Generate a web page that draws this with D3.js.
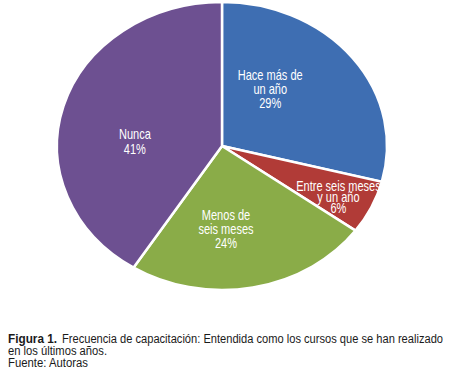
<!DOCTYPE html>
<html>
<head>
<meta charset="utf-8">
<script src="https://cdn.jsdelivr.net/npm/d3@7"></script>
<style>
  body { margin: 0; background: #fff; }
  svg { display: block; }
  .lbl { font-family: "Liberation Sans", Arial, sans-serif; font-size: 14.5px; fill: #fff; }
  .cap text { font-family: "Liberation Sans", Arial, sans-serif; font-size: 12.5px; fill: #1a1a1a; }
</style>
</head>
<body>
<svg width="457" height="379"></svg>
<script>
// data
var categories = ["Hace más de un año", "Entre seis meses y un año", "Menos de seis meses", "Nunca"];
var values = [29, 6, 24, 41];
var labelLines = [["Hace más de", "un año"], ["Entre seis meses", "y un año"], ["Menos de", "seis meses"], ["Nunca"]];
var colors = ["#3e6eb2", "#b13b37", "#8aac48", "#6d5091"];

var svg = d3.select("svg"),
    width = +svg.attr("width"),
    height = +svg.attr("height");

// the pie in the figure is a bit wider than tall
var cx = 222, cy = 146, ry = 144, rx = 165;

var pie = d3.pie().sort(null).value(d => d.value);
var arcs = pie(categories.map((c, i) => ({ name: c, value: values[i], lines: labelLines[i] })));

var arc = d3.arc().innerRadius(0).outerRadius(ry);

var g = svg.append("g")
    .attr("transform", "translate(" + cx + "," + cy + ") scale(" + (rx / ry) + ",1)");

g.selectAll("path")
    .data(arcs)
    .enter().append("path")
    .attr("d", arc)
    .attr("fill", (d, i) => colors[i])
    .attr("stroke", "#fff")
    .attr("stroke-width", 2.5)
    .attr("vector-effect", "non-scaling-stroke");

// label placement along the slice bisector (x and y fractions), and line spacing
var labelFx = [0.37, 0.78, 0.13, 0.55];
var labelFy = [0.65, 0.83, 0.59, 0.1];
var lineH = [14, 11, 14, 15];
var squeeze = 0.76; // the figure uses a condensed face

var labels = svg.append("g");
arcs.forEach(function(d, i) {
    var a = (d.startAngle + d.endAngle) / 2;
    var x = cx + Math.sin(a) * rx * labelFx[i];
    var y = cy - Math.cos(a) * ry * labelFy[i];
    var lines = d.data.lines.concat([d.data.value + "%"]);
    var y0 = y - (lines.length - 1) * lineH[i] / 2;
    lines.forEach(function(s, k) {
        var t = labels.append("text")
            .attr("class", "lbl")
            .attr("text-anchor", "middle")
            .attr("x", x)
            .attr("y", y0 + k * lineH[i] + 5)
            .text(s);
        var w = t.node().getComputedTextLength();
        t.attr("textLength", w * squeeze).attr("lengthAdjust", "spacingAndGlyphs");
    });
});

// caption
var cap = svg.append("g").attr("class", "cap");
function capLine(x, y, w, s, bold) {
    var t = cap.append("text").attr("x", x).attr("y", y).text(s);
    if (bold) t.style("font-weight", "bold");
    t.attr("textLength", w).attr("lengthAdjust", "spacingAndGlyphs");
}
capLine(8, 343, 49, "Figura 1.", true);
capLine(62, 343, 381, "Frecuencia de capacitación: Entendida como los cursos que se han realizado");
capLine(8, 355, 99, "en los últimos años.");
capLine(8, 367, 80, "Fuente: Autoras");
</script>
</body>
</html>
